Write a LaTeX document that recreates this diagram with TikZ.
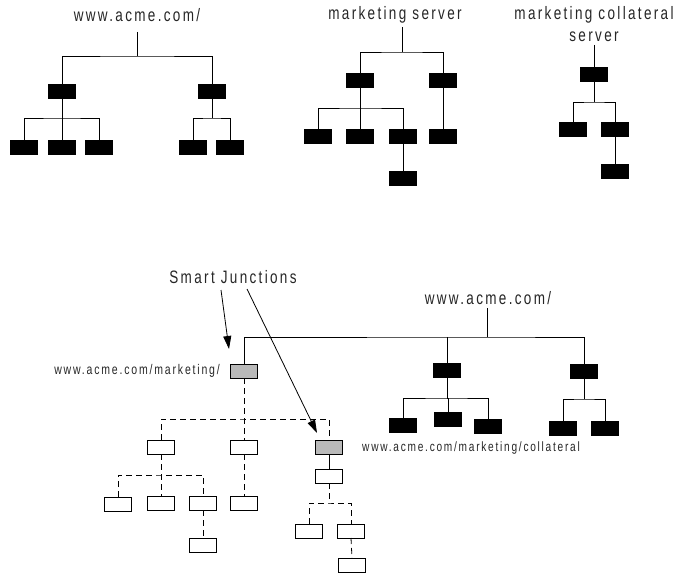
\documentclass[tikz,border=0pt]{standalone}
\usepackage{fontspec}
\setmainfont{Liberation Sans}[FakeStretch=0.75,LetterSpace=13]
\usetikzlibrary{arrows.meta}
\newcommand\lblbig{\fontsize{18}{22}\selectfont}
\newcommand\lblsmall{\fontsize{14}{16}\selectfont}
\newcommand\lblsmaller{\fontsize{13.5}{16}\selectfont}
\begin{document}
\begin{tikzpicture}[x=1pt,y=-1pt,
  box/.style={draw=black,line width=0.9pt,minimum width=27pt,minimum height=14pt,inner sep=0pt,outer sep=0pt},
  blk/.style={box,fill=black},
  gry/.style={box,fill=gray!55},
  wht/.style={box,fill=white},
  ln/.style={line width=0.8pt,black},
  dsh/.style={ln,dash pattern=on 6pt off 4pt},
  big/.style={font=\lblbig,text=black!85,inner sep=0pt},
  small/.style={font=\lblsmall,text=black!85,inner sep=0pt},
  arr/.style={line width=0.8pt,-{Triangle[length=13pt,width=8pt]}}]
\useasboundingbox (0,0) rectangle (679,575);

% ---------- tree 1 ----------
\node[big] (t1) at (137,15) {www.acme.com/};
\coordinate (t1r) at (137,32);
\coordinate (t1b) at (137,56);
\node[blk] (a1) at (62,91) {};
\node[blk] (a2) at (212,91) {};
\node[blk] (a11) at (24,147) {};
\node[blk] (a12) at (62,147) {};
\node[blk] (a13) at (99,147) {};
\node[blk] (a21) at (193,147) {};
\node[blk] (a22) at (230,147) {};
\coordinate (a1b) at (62,118);
\coordinate (a2b) at (212,118);
\draw[ln] (t1r) -- (t1b);
\draw[ln] (a1.north) |- (t1b) -| (a2.north);
\draw[ln] (a1.south) -- (a12.north);
\draw[ln] (a11.north) |- (a1b) -| (a13.north);
\draw[ln] (a2.south) -- (a2b);
\draw[ln] (a21.north) |- (a2b) -| (a22.north);

% ---------- tree 2 ----------
\node[big] (t2) at (395,15) {marketing server};
\coordinate (t2r) at (402,27);
\coordinate (t2b) at (402,52);
\node[blk] (b1) at (360,80) {};
\node[blk] (b2) at (443,80) {};
\node[blk] (b11) at (318,136) {};
\node[blk] (b12) at (360,136) {};
\node[blk] (b13) at (403,136) {};
\node[blk] (b131) at (403,178) {};
\node[blk] (b21) at (443,136) {};
\coordinate (b1b) at (360,108);
\draw[ln] (t2r) -- (t2b);
\draw[ln] (b1.north) |- (t2b) -| (b2.north);
\draw[ln] (b1.south) -- (b12.north);
\draw[ln] (b11.north) |- (b1b) -| (b13.north);
\draw[ln] (b13.south) -- (b131.north);
\draw[ln] (b2.south) -- (b21.north);

% ---------- tree 3 ----------
\node[big,align=center] (t3) at (594,24) {marketing collateral\\server};
\coordinate (t3r) at (594,45);
\node[blk] (c1) at (594,74) {};
\node[blk] (c11) at (573,129) {};
\node[blk] (c12) at (615,129) {};
\node[blk] (c121) at (615,171) {};
\coordinate (c1b) at (594,102);
\draw[ln] (t3r) -- (c1.north);
\draw[ln] (c1.south) -- (c1b);
\draw[ln] (c11.north) |- (c1b) -| (c12.north);
\draw[ln] (c12.south) -- (c121.north);

% ---------- combined tree ----------
\node[big] (sj) at (233,277) {Smart Junctions};
\node[big] (m0) at (488,298) {www.acme.com/};
\coordinate (m0r) at (487,308);
\coordinate (mb) at (487,337);
\node[gry] (g1) at (244,371) {};
\node[small,anchor=east] (g1l) at (220,371) {www.acme.com/marketing/};
\node[blk] (m1) at (447,370) {};
\node[blk] (m2) at (584,371) {};
\node[blk] (m11) at (403,425) {};
\node[blk] (m12) at (448,419) {};
\node[blk] (m13) at (488,426) {};
\node[blk] (m21) at (563,428) {};
\node[blk] (m22) at (605,428) {};
\coordinate (m1b) at (447,398);
\coordinate (m2b) at (584,399);
\node[small,font=\lblsmaller,anchor=west] (g2l) at (362,448) {www.acme.com/marketing/collateral};
\draw[ln] (m0r) -- (mb);
\draw[ln] (g1.north) |- (mb) -| (m2.north);
\draw[ln] (m1.north) -- (m1.north |- mb);
\draw[ln] (m1.south) -- (m1b);
\draw[ln] (m11.north) |- (m1b) -| (m13.north);
\draw[ln] (m1b) -| (m12.north);
\draw[ln] (m2.south) -- (m2b);
\draw[ln] (m21.north) |- (m2b) -| (m22.north);

% dashed marketing subtree
\node[wht] (w1) at (161,447) {};
\node[wht] (w2) at (244,447) {};
\node[gry] (g2) at (329,447) {};
\coordinate (gb) at (244,419);
\draw[dsh] (g1.south) -- (w2.north);
\draw[dsh] (w1.north) |- (gb) -| (g2.north);

\node[wht] (w11) at (118,504) {};
\node[wht] (w12) at (161,503) {};
\node[wht] (w13) at (203,503) {};
\node[wht] (w131) at (203,545) {};
\coordinate (w1b) at (161,475);
\draw[dsh] (w1.south) -- (w12.north);
\draw[dsh] (w11.north) |- (w1b) -| (w13.north);
\draw[dsh] (w13.south) -- (w131.north);

\node[wht] (w21) at (244,503) {};
\draw[dsh] (w2.south) -- (w21.north);

\node[wht] (w3) at (329,476) {};
\node[wht] (w31) at (309,531) {};
\node[wht] (w32) at (351,531) {};
\node[wht] (w321) at (352,565) {};
\coordinate (w3b) at (329,503);
\draw[ln] (g2.south) -- (w3.north);
\draw[dsh] (w3.south) -- (w3b);
\draw[dsh] (w31.north) |- (w3b) -| (w32.north);
\draw[dsh] (w32.south) -- (w321.north);

% arrows
\coordinate (sja) at (221,290);
\coordinate (sjb) at (247,289);
\coordinate (ea) at (229,349);
\coordinate (eb) at (317,433);
\draw[arr] (sja) -- (ea);
\draw[arr] (sjb) -- (eb);
\end{tikzpicture}
\end{document}
